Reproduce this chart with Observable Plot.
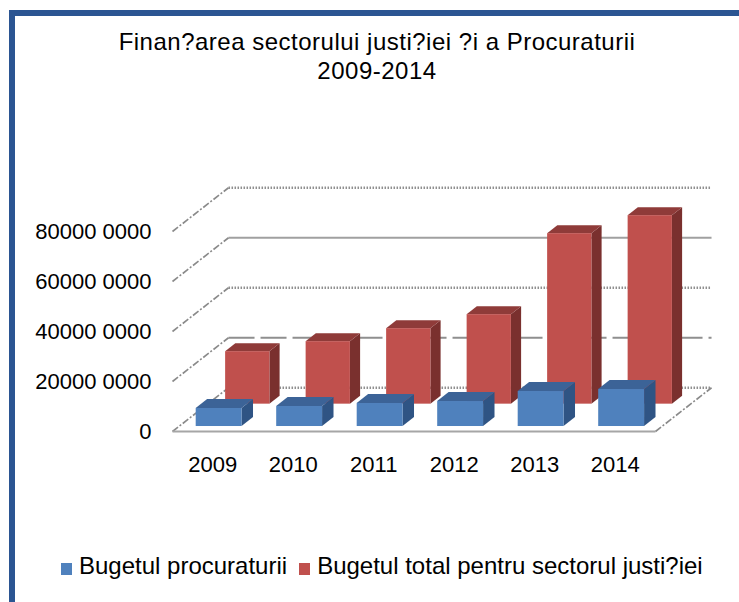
<!DOCTYPE html>
<html>
<head>
<meta charset="utf-8">
<script src="https://cdn.jsdelivr.net/npm/d3@7"></script>
<script src="https://cdn.jsdelivr.net/npm/@observablehq/plot@0.6"></script>
<style>
  body { margin: 0; background: #fff; }
  #wrap { position: relative; width: 739px; height: 602px; overflow: hidden; font-family: "Liberation Sans", Arial, sans-serif; color: #000; }
  #chart { position: absolute; left: 0; top: 0; }
  #border { position: absolute; left: 9px; top: 10px; right: -20px; bottom: -20px; border-top: 6px solid #2B5592; border-left: 6px solid #2B5592; pointer-events: none; }
  #title { position: absolute; left: 15px; right: 0; top: 27px; text-align: center; font-size: 24px; line-height: 29px; letter-spacing: 0.5px; }
  #legend { position: absolute; left: 61px; top: 551px; font-size: 24px; line-height: 30px; white-space: nowrap; }
  #legend .sw { display: inline-block; width: 11px; height: 12px; margin-right: 7px; vertical-align: -1px; }
  #legend .item { margin-right: 12px; }
</style>
</head>
<body>
<div id="wrap">
  <div id="chart"></div>
  <div id="title"></div>
  <div id="legend"></div>
  <div id="border"></div>
</div>
<script>
// ---- data ----
const years = ["2009", "2010", "2011", "2012", "2013", "2014"];
const bugetProcuratura = [72e6, 80e6, 92e6, 100e6, 140e6, 148e6];
const bugetJustitie = [210e6, 250e6, 302e6, 358e6, 682e6, 754e6];
const yTicks = [0, 200e6, 400e6, 600e6, 800e6];
const yTickLabels = ["0", "20000 0000", "40000 0000", "60000 0000", "80000 0000"];
const seriesNames = ["Bugetul procuraturii", "Bugetul total pentru sectorul justi?iei"];
const titleLines = ["Finan?area sectorului justi?iei ?i a Procuraturii", "2009-2014"];

// ---- styles / geometry ----
const palette = {
  blue: { front: "#4F81BD", top: "#3C6397", side: "#2F5484" },
  red: { front: "#C0504D", top: "#8F3B39", side: "#7A302E" }
};
const KX = 0.696;    // horizontal shift (category units) for full floor depth
const KY = 175e6;    // vertical shift (value units) for full floor depth
const xMin = -0.5, xMax = years.length - 0.5;
const rows = [
  { key: "red", values: bugetJustitie, z0: 0.625, z1: 0.807, w: 0.55 },
  { key: "blue", values: bugetProcuratura, z0: 0.114, z1: 0.318, w: 0.57 }
];

function faces(row) {
  const fronts = [], tops = [], sides = [];
  const d = (row.z1 - row.z0) * KX, e = (row.z1 - row.z0) * KY;
  row.values.forEach((v, i) => {
    const xl = i - row.w / 2 + row.z0 * KX, xr = i + row.w / 2 + row.z0 * KX;
    const b = row.z0 * KY, t = v + row.z0 * KY;
    const id = row.key + i;
    fronts.push({ x1: xl, x2: xr, y1: b, y2: t });
    tops.push({ id, x: xl, y1: t, y2: t }, { id, x: xl + d, y1: t, y2: t + e },
              { id, x: xr, y1: t, y2: t + e }, { id, x: xr + d, y1: t + e, y2: t + e });
    sides.push({ id, x: xr, y1: b, y2: t }, { id, x: xr + d, y1: b + e, y2: t + e });
  });
  return { fronts, tops, sides };
}

const gridStyles = [
  { dash: "1.5,1.5", w: 2.5, c: "#8f8f8f" },
  { dash: "26,6", w: 2, c: "#8f8f8f" },
  { dash: "1.5,1.5", w: 2.5, c: "#8f8f8f" },
  { dash: null, w: 2, c: "#a0a0a0" },
  { dash: "1.5,1.5", w: 2.5, c: "#8f8f8f" }
];

const marks = [];
// back wall gridlines
yTicks.forEach((t, i) => {
  const s = gridStyles[i];
  marks.push(Plot.link([t], { x1: xMin + KX, x2: xMax + KX, y1: d => d + KY, y2: d => d + KY,
    stroke: s.c, strokeWidth: s.w, strokeDasharray: s.dash }));
});
// left wall diagonals
marks.push(Plot.link(yTicks, { x1: xMin, y1: d => d, x2: xMin + KX, y2: d => d + KY,
  stroke: "#8a8a8a", strokeWidth: 1.6, strokeDasharray: "7,2,2,2" }));
// floor edges
marks.push(Plot.link([0], { x1: xMin, x2: xMax, y1: d => d, y2: d => d, stroke: "#a6a6a6", strokeWidth: 2 }));
marks.push(Plot.link([0], { x1: xMax, y1: d => d, x2: xMax + KX, y2: d => d + KY,
  stroke: "#8a8a8a", strokeWidth: 1.6, strokeDasharray: "7,2,2,2" }));
// bars (back row first)
rows.forEach(row => {
  const f = faces(row), c = palette[row.key];
  marks.push(Plot.area(f.sides, { x1: "x", y1: "y1", y2: "y2", z: "id", fill: c.side, curve: "linear" }));
  marks.push(Plot.area(f.tops, { x1: "x", y1: "y1", y2: "y2", z: "id", fill: c.top, curve: "linear" }));
  marks.push(Plot.rect(f.fronts, { x1: "x1", x2: "x2", y1: "y1", y2: "y2", fill: c.front }));
});
// y labels
marks.push(Plot.text(yTicks, { x: xMin, y: d => d, text: (d, i) => yTickLabels[i],
  textAnchor: "end", dx: -21, fontSize: 22, fill: "#000" }));
// x labels
marks.push(Plot.text(years, { x: (d, i) => i, y: 0, dy: 33, text: d => d, fontSize: 22, fill: "#000" }));

const chart = Plot.plot({
  width: 739,
  height: 602,
  margin: 0,
  style: { background: "transparent", fontFamily: "'Liberation Sans', Arial, sans-serif", overflow: "visible" },
  x: { type: "linear", domain: [xMin, xMax], range: [172, 655], axis: null },
  y: { type: "linear", domain: [0, 800e6], range: [431, 231], axis: null },
  marks
});
document.getElementById("chart").appendChild(chart);

// title
document.getElementById("title").innerHTML = titleLines.map(t => `<div>${t}</div>`).join("");
// legend
const legendColors = [palette.blue.front, palette.red.front];
document.getElementById("legend").innerHTML = seriesNames.map((n, i) =>
  `<span class="item"><span class="sw" style="background:${legendColors[i]}"></span>${n}</span>`).join("");
</script>
</body>
</html>
